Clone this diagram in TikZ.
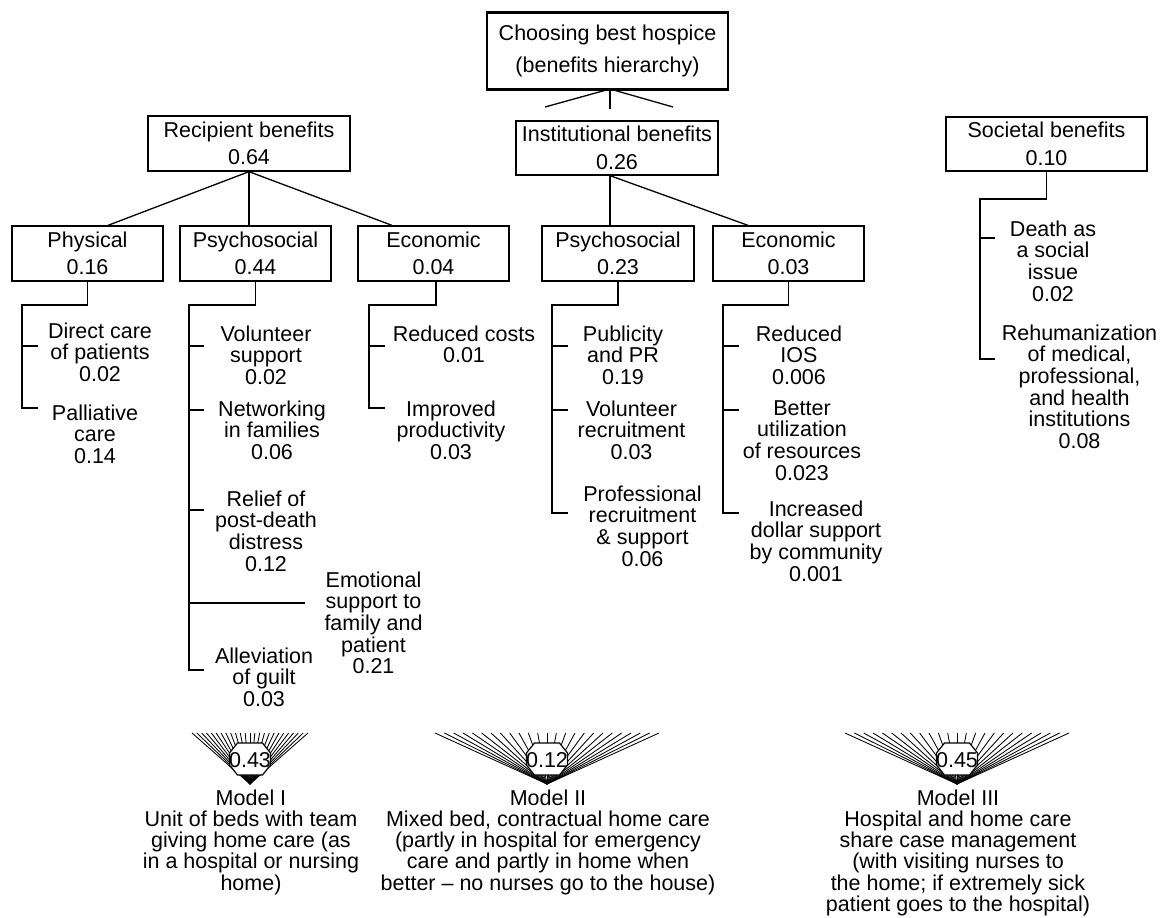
\documentclass[tikz,border=0pt]{standalone}
\usepackage{fontspec}
\setmainfont{Liberation Sans}
\usetikzlibrary{calc}
\newcommand\leaffont{\fontsize{21.5}{21.7}\selectfont}
\newcommand\boxfont{\fontsize{21.5}{27.5}\selectfont}
\newcommand\topfont{\fontsize{21.5}{32}\selectfont}
\newcommand\modelfont{\fontsize{21.5}{21.3}\selectfont}
\begin{document}
\begin{tikzpicture}[x=1pt,y=-1pt,
  box/.style={draw, line width=1.3pt, inner sep=0pt, align=center, font=\boxfont},
  leaf/.style={inner sep=0pt, align=center, font=\leaffont, anchor=north},
  model/.style={inner sep=0pt, align=center, font=\modelfont, anchor=north},
  conn/.style={line width=1.3pt},
  fanline/.style={line width=0.85pt},
  octo/.style={draw, line width=1.2pt, fill=white}]
\useasboundingbox (0,0) rectangle (1165,918);

% boxes
\node[box, minimum width=241pt, minimum height=76pt, font=\topfont] (top) at (607.5,51) {Choosing best hospice\\(benefits hierarchy)};
\draw[line width=2.8pt] (top.north west) -- (top.north east);
\draw[line width=2.8pt] (top.south west) -- (top.south east);
\node[box, minimum width=202pt, minimum height=55pt] (rec) at (249,143.5) {Recipient benefits\\0.64};
\node[box, minimum width=202pt, minimum height=54pt] (inst) at (617,148) {Institutional benefits\\0.26};
\node[box, minimum width=201pt, minimum height=54pt] (soc) at (1046.5,144) {Societal benefits\\0.10};
\node[box, minimum width=151pt, minimum height=55pt] (phys) at (87.5,253.5) {Physical\\0.16};
\node[box, minimum width=151pt, minimum height=55pt] (psy) at (255.5,253.5) {Psychosocial\\0.44};
\node[box, minimum width=151pt, minimum height=55pt] (eco) at (433.5,253.5) {Economic\\0.04};
\node[box, minimum width=152pt, minimum height=55pt] (ipsy) at (618,253.5) {Psychosocial\\0.23};
\node[box, minimum width=151pt, minimum height=55pt] (ieco) at (788.5,253.5) {Economic\\0.03};

% top stubs
\coordinate (tj) at (610,89);
\coordinate (tl) at (545,107);
\coordinate (tr) at (673,107);
\coordinate (tm) at (610,109);
\draw[conn] (tl) -- (tj) -- (tr);
\draw[conn] (tj) -- (tm);

% recipient
\draw[conn] (rec.south) -- ([xshift=20.5pt]phys.north);
\draw[conn] (rec.south) -- (rec.south |- psy.north);
\draw[conn] (rec.south) -- ([xshift=-41.5pt]eco.north);
% institutional
\coordinate (ij) at ([xshift=-7pt]inst.south);
\draw[conn] (ij) -- (ij |- ipsy.north);
\draw[conn] (ij) -- ([xshift=-40.5pt]ieco.north);

% societal bracket
\draw[conn] (soc.south) |- (980,199) -- (980,359) -- (995,359);
\draw[conn] (980,238) -- (995,238);
\node[leaf] (death) at (1053,220.3) {Death as\\a social\\issue\\0.02};
\node[leaf] (rehum) at (1079.5,324.3) {Rehumanization\\of medical,\\professional,\\and health\\institutions\\0.08};

% physical bracket
\draw[conn] (phys.south) |- (22,305) -- (22,408) -- (38,408);
\draw[conn] (22,346) -- (38,346);
\node[leaf] (dc) at (100,322.3) {Direct care\\of patients\\0.02};
\node[leaf] (pc) at (95,404.3) {Palliative\\care\\0.14};

% psychosocial bracket
\draw[conn] (psy.south) |- (189,305) -- (189,670) -- (204,670);
\draw[conn] (189,346) -- (204,346);
\draw[conn] (189,410) -- (204,410);
\draw[conn] (189,510) -- (204,510);
\draw[conn] (189,603) -- (305,603);
\node[leaf] (vs) at (266,325.3) {Volunteer\\support\\0.02};
\node[leaf] (nf) at (272,400.3) {Networking\\in families\\0.06};
\node[leaf] (rp) at (266,490.3) {Relief of\\post-death\\distress\\0.12};
\node[leaf] (es) at (373.5,571.3) {Emotional\\support to\\family and\\patient\\0.21};
\node[leaf] (ag) at (264,647.3) {Alleviation\\of guilt\\0.03};

% economic bracket
\draw[conn] ([xshift=2.5pt]eco.south) |- (369,305) -- (369,408) -- (385,408);
\draw[conn] (369,346) -- (385,346);
\node[leaf] (rc) at (464,325.3) {Reduced costs\\0.01};
\node[leaf] (ip) at (451,400.3) {Improved\\productivity\\0.03};

% institutional psychosocial bracket
\draw[conn] (ipsy.south) |- (552,305) -- (552,513) -- (568,513);
\draw[conn] (552,346) -- (568,346);
\draw[conn] (552,410) -- (568,410);
\node[leaf] (pp) at (623,325.3) {Publicity\\and PR\\0.19};
\node[leaf] (vr) at (631.5,400.3) {Volunteer\\recruitment\\0.03};
\node[leaf] (pr) at (642.5,485.3) {Professional\\recruitment\\\& support\\0.06};

% institutional economic bracket
\draw[conn] (ieco.south) |- (723,305) -- (723,513) -- (739,513);
\draw[conn] (723,346) -- (739,346);
\draw[conn] (723,410) -- (739,410);
\node[leaf] (ri) at (799,325.3) {Reduced\\IOS\\0.006};
\node[leaf] (bu) at (802,400.3) {Better\\utilization\\of resources\\0.023};
\node[leaf] (id) at (816,500.3) {Increased\\dollar support\\by community\\0.001};

% model fans
\foreach \cx/\hw/\val/\nm in {250/58/0.43/a, 547/112/0.12/b, 957/112/0.45/c}{
  \coordinate (apex\nm) at (\cx,784);
  \foreach \i in {0,...,24}{
    \draw[fanline] (apex\nm) -- ++({-\hw+\i*\hw/12},-51);
  }
  \draw[octo] (\cx-20.5,753) -- (\cx-12.5,743) -- (\cx+12.5,743) -- (\cx+20.5,753)
     -- (\cx+20.5,765) -- (\cx+12.5,775) -- (\cx-12.5,775) -- (\cx-20.5,765) -- cycle;
  \node[inner sep=0pt, font=\leaffont] (val\nm) at (\cx,760) {\val};
}

\node[model] (m1) at (251,789.3) {Model I\\Unit of beds with team\\giving home care (as\\in a hospital or nursing\\home)};
\node[model] (m2) at (548,789.3) {Model II\\Mixed bed, contractual home care\\(partly in hospital for emergency\\care and partly in home when\\better -- no nurses go to the house)};
\node[model] (m3) at (958,789.3) {Model III\\Hospital and home care\\share case management\\(with visiting nurses to\\the home; if extremely sick\\patient goes to the hospital)};
\end{tikzpicture}
\end{document}
